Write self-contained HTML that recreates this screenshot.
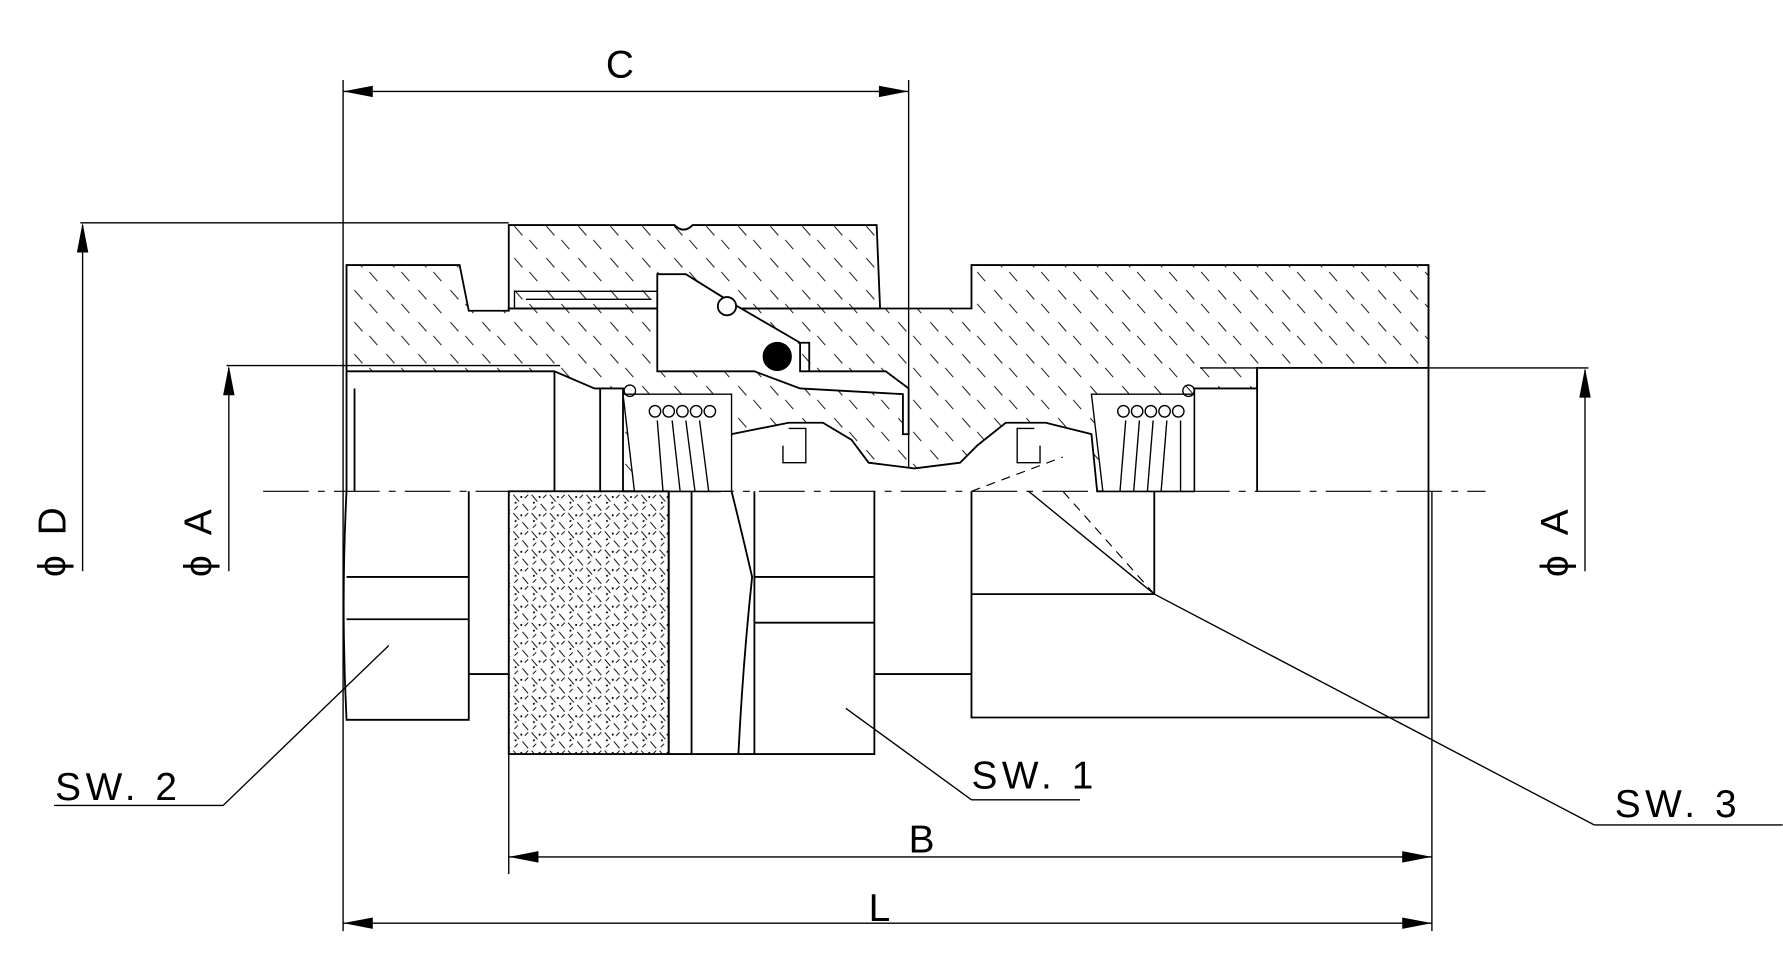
<!DOCTYPE html>
<html><head><meta charset="utf-8"><style>
html,body{margin:0;padding:0;background:#fff;}
svg{display:block;}
text{font-family:"Liberation Sans",sans-serif;fill:#000;letter-spacing:4px;}
</style></head><body>
<svg width="1783" height="954" viewBox="0 0 1560 835" xmlns="http://www.w3.org/2000/svg">
<defs>
<pattern id="h" width="28" height="28" patternUnits="userSpaceOnUse">
<path d="M2 2 L9 10 M15 14 L22 22" stroke="#000" stroke-width="0.8"/>
</pattern>
<pattern id="k" width="16" height="16" patternUnits="userSpaceOnUse">
<path d="M1 1 L6 7 M9 9 L14 15 M14 1 L11 4 M5 11 L2 14" stroke="#000" stroke-width="0.8"/>
<circle cx="8" cy="3" r="0.9"/><circle cx="3" cy="8" r="0.9"/>
</pattern>
</defs>
<g fill="none" stroke="#000" stroke-width="1.6">
<path d="M230 430 H1300" stroke-width="1" stroke-dasharray="40 8 6 8"/>
<path d="M303 232 H402 L410 272 H445 V270 H850 V232 H1250 V322 H1100 V340 H1045 V430 H960 L955 380 L915 370 L880 370 L855 390 L840 405 L800 410 L760 405 L745 385 L720 370 L690 370 L640 380 L630 430 H545 V340 H520 L485 325 H303 Z" fill="url(#h)"/>
<path d="M445 197 H590 Q598 205 606 197 H767 L770 270 H445 Z" fill="url(#h)"/>
<path d="M450 255 H575 V270 H450 Z M460 262 H570" stroke-width="1.2"/>
<path d="M575 240 H600 L645 268 L700 300 V325 H775 L795 340 V380 H790 V345 L700 340 L660 325 H575 Z" fill="#fff"/>
<circle cx="636" cy="268" r="8" fill="#fff"/>
<circle cx="680" cy="312" r="12" fill="#000"/>
<path d="M698 300 H708 V325"/>
<path d="M303 325 V430 M310 340 V430 M485 325 V430 M525 340 V430"/>
<path d="M545 345 H640 V430 H555 Z M955 345 H1045 V430 H965 Z" fill="#fff" stroke-width="1.2"/>
<g stroke-width="1.2">
<circle cx="573" cy="360" r="5"/><circle cx="585" cy="360" r="5"/><circle cx="597" cy="360" r="5"/><circle cx="609" cy="360" r="5"/><circle cx="621" cy="360" r="5"/>
<circle cx="983" cy="360" r="5"/><circle cx="995" cy="360" r="5"/><circle cx="1007" cy="360" r="5"/><circle cx="1019" cy="360" r="5"/><circle cx="1031" cy="360" r="5"/>
<circle cx="551" cy="342" r="5"/><circle cx="1040" cy="342" r="5"/>
<path d="M575 368 L580 430 M588 368 L595 430 M600 368 L608 430 M612 368 L620 430 M985 368 L980 430 M997 368 L992 430 M1009 368 L1004 430 M1021 368 L1016 430 M1033 368 V430"/>
<path d="M690 375 H705 V405 H685 V390 M905 375 H890 V405 H910 V390"/>
</g>
<path d="M303 430 Q298 530 303 630 H410 V430 M303 505 H410 M303 542 H410 M410 590 H445"/>
<rect x="445" y="430" width="140" height="230" fill="url(#k)"/>
<path d="M585 430 V660 H605 V430 M605 660 H765 V430 M640 430 Q650 470 658 505 Q650 580 646 660 M660 430 V660 M660 505 H765 M660 545 H765 M765 590 H850"/>
<path d="M850 430 V628 H1250 V232 M850 520 H1010 V430 M1100 322 V430"/>
<path d="M850 430 L930 400 M1010 520 L930 430" stroke-width="1" stroke-dasharray="8 6"/>
<g stroke-width="1.2">
<path d="M300 70 V815 M795 70 V410 M1253 430 V815 M445 660 V765"/>
<path d="M300 80 H795 M445 750 H1253 M300 808 H1253"/>
<path d="M70 195 H445 M72 197 V500 M198 320 H490 M200 322 V500 M1050 322 H1390 M1387 324 V500"/>
<path d="M47 705 H195 L340 565"/>
<path d="M850 700 H945 M850 700 L740 620"/>
<path d="M1395 722 H1560 M1395 722 L1010 520 L900 430"/>
</g>
</g>
<g fill="#000">
<path d="M300 80 L326 75 L326 85 Z M795 80 L769 75 L769 85 Z"/>
<path d="M445 750 L471 745 L471 755 Z M1253 750 L1227 745 L1227 755 Z"/>
<path d="M300 808 L326 803 L326 813 Z M1253 808 L1227 803 L1227 813 Z"/>
<path d="M72 195 L67 221 L77 221 Z M200 320 L195 346 L205 346 Z M1387 322 L1382 348 L1392 348 Z"/>
</g>
<g font-size="34">
<text x="530" y="68">C</text>
<text x="795" y="746">B</text>
<text x="760" y="806">L</text>
<text x="48" y="700">SW. 2</text>
<text x="850" y="690">SW. 1</text>
<text x="1413" y="715">SW. 3</text>
<text transform="translate(57 505) rotate(-90)">ϕ D</text>
<text transform="translate(185 505) rotate(-90)">ϕ A</text>
<text transform="translate(1372 505) rotate(-90)">ϕ A</text>
</g>
</svg>
</body></html>
